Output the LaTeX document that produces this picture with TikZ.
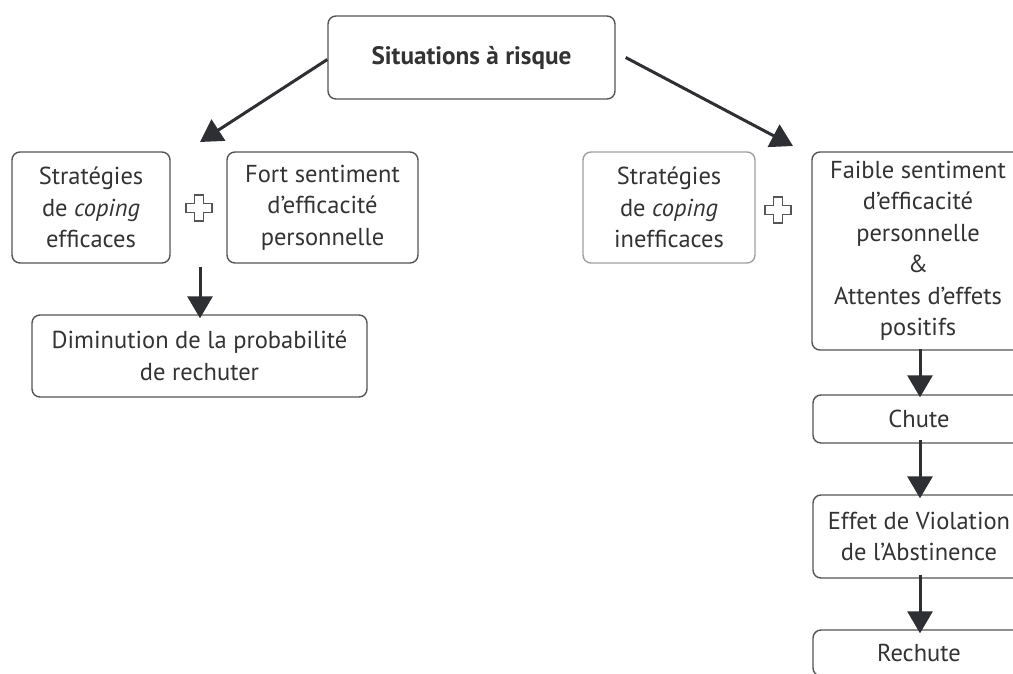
\documentclass[tikz,border=0pt]{standalone}
\usepackage{fontspec}
\setmainfont{PT Sans}
\usetikzlibrary{arrows.meta,calc}
\definecolor{txt}{HTML}{333333}
\definecolor{brd}{HTML}{555555}
\definecolor{lbrd}{HTML}{A0A0A0}
\definecolor{ink}{HTML}{2E2F33}
\tikzset{
  box/.style={draw=brd, line width=1.4pt, rounded corners=8pt, align=center,
    text=txt, inner sep=0pt, font=\fontsize{24.5}{31.5}\selectfont},
  arr/.style={draw=ink, line width=3pt,
    -{Triangle[width=25pt,length=22pt]}},
  plusmark/.style={draw=brd, line width=1.3pt, fill=white}
}
\begin{document}
\begin{tikzpicture}[x=1pt,y=-1pt]
\useasboundingbox (0,0) rectangle (1013,673);
\clip (0,0) rectangle (1013,673);
\fill[white] (0,0) rectangle (1013,673);

\node[box, minimum width=287pt, minimum height=83pt,
  font=\fontsize{25.2}{31}\selectfont\bfseries] (top) at (471.5,57.5) {Situations à risque};

\node[box, minimum width=158pt, minimum height=111pt] (b1) at (91,207.5)
  {Stratégies\\de \emph{coping}\\efficaces};
\node[box, minimum width=191pt, minimum height=111pt] (b2) at (322.5,207.5)
  {Fort sentiment\\d’efficacité\\personnelle};
\node[box, minimum width=335pt, minimum height=82pt] (dim) at (199.5,356)
  {Diminution de la probabilité\\de rechuter};

\node[box, draw=lbrd, minimum width=172pt, minimum height=111pt] (b3) at (669,207.5)
  {Stratégies\\de \emph{coping}\\inefficaces};
\node[box, minimum width=212pt, minimum height=198pt] (b4) at (918,251)
  {Faible sentiment\\d’efficacité\\personnelle\\\&\\Attentes d’effets\\positifs};
\node[box, minimum width=212pt, minimum height=48pt] (chute) at (919,419) {Chute};
\node[box, minimum width=212pt, minimum height=83pt] (effet) at (919,536.5)
  {Effet de Violation\\de l’Abstinence};
\node[box, minimum width=212pt, minimum height=46pt] (rechute) at (919,653) {Rechute};

% diagonal arrows
\coordinate (ltip) at (200,142);
\coordinate (rtip) at (793,146);
\draw[arr] ([yshift=-2pt]top.west) -- (ltip);
\draw[arr] ([xshift=10pt]top.east) -- (rtip);

% down arrows
\coordinate (a1s) at (200,267);
\draw[arr] (a1s) -- ([yshift=-4pt]a1s |- dim.north);
\draw[arr] ([yshift=2pt]b4.south -| 920,0) -- ([yshift=-3pt]chute.north -| 920,0);
\draw[arr] ([yshift=4pt]chute.south -| 920,0) -- ([yshift=-4pt]effet.north -| 920,0);
\draw[arr] ([yshift=4pt]effet.south -| 920,0) -- ([yshift=-4pt]rechute.north -| 920,0);

% plus signs
\foreach \cx/\cy in {199/208, 778/210}{
  \draw[plusmark] (\cx-4.5,\cy-13) -- (\cx+4.5,\cy-13) -- (\cx+4.5,\cy-4.5) -- (\cx+13,\cy-4.5)
    -- (\cx+13,\cy+4.5) -- (\cx+4.5,\cy+4.5) -- (\cx+4.5,\cy+13) -- (\cx-4.5,\cy+13)
    -- (\cx-4.5,\cy+4.5) -- (\cx-13,\cy+4.5) -- (\cx-13,\cy-4.5) -- (\cx-4.5,\cy-4.5) -- cycle;
}
\end{tikzpicture}
\end{document}
